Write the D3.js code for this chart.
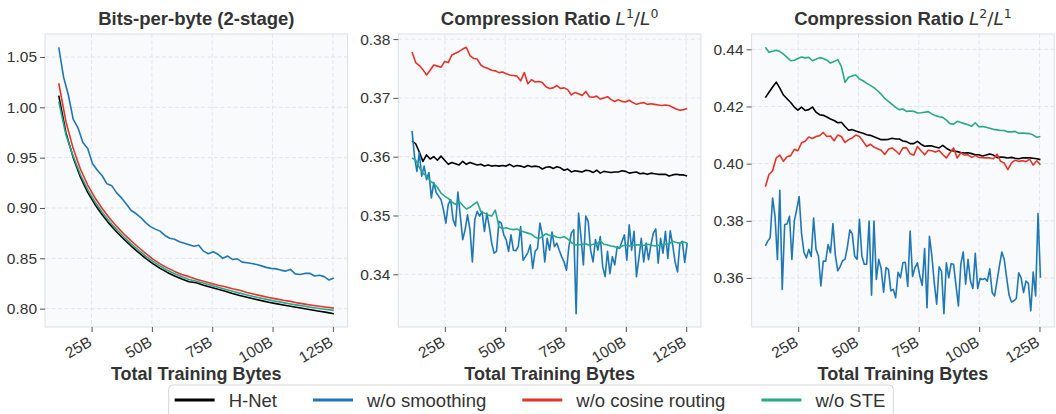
<!DOCTYPE html>
<html>
<head>
<meta charset="utf-8">
<script src="https://cdn.jsdelivr.net/npm/d3@7"></script>
<style>
  body { margin: 0; background: #fff; }
  svg { display: block; font-family: 'Liberation Sans', Arial, sans-serif; }
</style>
</head>
<body>
<div id="chart"></div>
<script>
'use strict';

// series names, legend order = draw order
const seriesNames = ['H-Net', 'w/o smoothing', 'w/o cosine routing', 'w/o STE'];

// logged range of training bytes (in billions), every series is evenly spaced over it
const firstByte = 11.4;
const lastByte = 125.4;
const xTicks = [25, 50, 75, 100, 125];

// bits-per-byte
const bpbHNet = [1.0116, 0.9745, 0.9500, 0.9305, 0.9155, 0.9035, 0.8932, 0.8842, 0.8762, 0.8690,
  0.8622, 0.8560, 0.8500, 0.8448, 0.8400, 0.8360, 0.8325, 0.8295, 0.8268, 0.8258,
  0.8232, 0.8212, 0.8192, 0.8173, 0.8151, 0.8131, 0.8113, 0.8096, 0.8080, 0.8064,
  0.8050, 0.8037, 0.8024, 0.8011, 0.7999, 0.7987, 0.7975, 0.7963, 0.7950];
const bpbSmoothing = [1.0596, 1.0300, 1.0120, 0.9880, 0.9795, 0.9650, 0.9590, 0.9440, 0.9375, 0.9320,
  0.9240, 0.9220, 0.9150, 0.9100, 0.9040, 0.8975, 0.8945, 0.8905, 0.8855, 0.8815,
  0.8790, 0.8770, 0.8727, 0.8700, 0.8690, 0.8665, 0.8650, 0.8635, 0.8620, 0.8630,
  0.8571, 0.8545, 0.8565, 0.8540, 0.8500, 0.8522, 0.8489, 0.8495, 0.8462, 0.8456,
  0.8448, 0.8439, 0.8425, 0.8410, 0.8400, 0.8395, 0.8383, 0.8373, 0.8390, 0.8345,
  0.8340, 0.8350, 0.8352, 0.8325, 0.8332, 0.8318, 0.8284, 0.8305];
const bpbCosine = [1.0239, 0.9855, 0.9590, 0.9385, 0.9228, 0.9102, 0.8995, 0.8900, 0.8817, 0.8742,
  0.8673, 0.8610, 0.8550, 0.8492, 0.8445, 0.8405, 0.8370, 0.8340, 0.8318, 0.8292,
  0.8272, 0.8252, 0.8233, 0.8218, 0.8197, 0.8182, 0.8160, 0.8143, 0.8127, 0.8111,
  0.8097, 0.8083, 0.8072, 0.8057, 0.8045, 0.8034, 0.8024, 0.8014, 0.8005];
const bpbSte = [1.0057, 0.9725, 0.9515, 0.9330, 0.9182, 0.9062, 0.8958, 0.8866, 0.8785, 0.8712,
  0.8644, 0.8581, 0.8522, 0.8470, 0.8423, 0.8382, 0.8347, 0.8317, 0.8290, 0.8272,
  0.8252, 0.8232, 0.8212, 0.8193, 0.8173, 0.8154, 0.8136, 0.8119, 0.8103, 0.8087,
  0.8073, 0.8060, 0.8047, 0.8035, 0.8023, 0.8012, 0.8002, 0.7992, 0.7983];
const bpbTicks = [0.80, 0.85, 0.90, 0.95, 1.00, 1.05];

// compression ratio L1/L0
const l1HNet = [0.3627, 0.3622, 0.3608, 0.3592, 0.3603, 0.3596, 0.3600, 0.3594, 0.3601, 0.3594,
  0.3587, 0.3590, 0.3588, 0.3586, 0.3592, 0.3587, 0.3590, 0.3588, 0.3586, 0.3587,
  0.3584, 0.3586, 0.3584, 0.3585, 0.3584, 0.3585, 0.3584, 0.3587, 0.3583, 0.3585,
  0.3584, 0.3582, 0.3585, 0.3583, 0.3584, 0.3583, 0.3579, 0.3582, 0.3583, 0.3580,
  0.3583, 0.3581, 0.3577, 0.3579, 0.3574, 0.3576, 0.3575, 0.3574, 0.3577, 0.3576,
  0.3573, 0.3577, 0.3572, 0.3575, 0.3574, 0.3573, 0.3574, 0.3574, 0.3576, 0.3575,
  0.3572, 0.3573, 0.3574, 0.3571, 0.3572, 0.3570, 0.3572, 0.3571, 0.3570, 0.3570,
  0.3570, 0.3567, 0.3569, 0.3570, 0.3569, 0.3569, 0.3567];
const l1Smoothing = [0.3644, 0.3601, 0.3575, 0.3607, 0.3567, 0.3584, 0.3561, 0.3573, 0.3530, 0.3556,
  0.3539, 0.3533, 0.3527, 0.3510, 0.3487, 0.3519, 0.3527, 0.3493, 0.3482, 0.3540,
  0.3499, 0.3459, 0.3476, 0.3501, 0.3476, 0.3421, 0.3493, 0.3507, 0.3499, 0.3507,
  0.3473, 0.3504, 0.3481, 0.3453, 0.3436, 0.3439, 0.3490, 0.3487, 0.3467, 0.3459,
  0.3439, 0.3467, 0.3441, 0.3440, 0.3447, 0.3481, 0.3424, 0.3430, 0.3437, 0.3450,
  0.3410, 0.3439, 0.3444, 0.3487, 0.3467, 0.3421, 0.3461, 0.3441, 0.3472, 0.3447,
  0.3453, 0.3441, 0.3430, 0.3421, 0.3407, 0.3447, 0.3470, 0.3476, 0.3333, 0.3504,
  0.3464, 0.3416, 0.3499, 0.3490, 0.3441, 0.3421, 0.3459, 0.3441, 0.3464, 0.3413,
  0.3396, 0.3439, 0.3401, 0.3430, 0.3416, 0.3447, 0.3444, 0.3456, 0.3467, 0.3424,
  0.3484, 0.3441, 0.3473, 0.3396, 0.3427, 0.3461, 0.3421, 0.3453, 0.3425, 0.3450,
  0.3470, 0.3477, 0.3419, 0.3461, 0.3436, 0.3473, 0.3427, 0.3474, 0.3450, 0.3421,
  0.3404, 0.3453, 0.3456, 0.3420, 0.3453];
const l1Cosine = [0.3778, 0.3760, 0.3755, 0.3748, 0.3739, 0.3747, 0.3756, 0.3754, 0.3752, 0.3762,
  0.3760, 0.3773, 0.3776, 0.3779, 0.3783, 0.3786, 0.3772, 0.3767, 0.3766, 0.3756,
  0.3752, 0.3750, 0.3747, 0.3746, 0.3743, 0.3744, 0.3741, 0.3739, 0.3738, 0.3737,
  0.3729, 0.3743, 0.3724, 0.3731, 0.3727, 0.3728, 0.3726, 0.3719, 0.3716, 0.3717,
  0.3721, 0.3716, 0.3717, 0.3714, 0.3705, 0.3709, 0.3707, 0.3704, 0.3711, 0.3702,
  0.3701, 0.3703, 0.3698, 0.3700, 0.3702, 0.3697, 0.3694, 0.3697, 0.3694, 0.3693,
  0.3696, 0.3692, 0.3689, 0.3691, 0.3692, 0.3689, 0.3690, 0.3689, 0.3688, 0.3687,
  0.3688, 0.3687, 0.3684, 0.3681, 0.3679, 0.3680, 0.3682];
const l1Ste = [0.3598, 0.3594, 0.3582, 0.3572, 0.3567, 0.3559, 0.3554, 0.3548, 0.3538, 0.3533,
  0.3529, 0.3523, 0.3519, 0.3524, 0.3517, 0.3511, 0.3514, 0.3519, 0.3523, 0.3507,
  0.3504, 0.3501, 0.3499, 0.3509, 0.3481, 0.3478, 0.3479, 0.3477, 0.3476, 0.3477,
  0.3474, 0.3472, 0.3470, 0.3468, 0.3463, 0.3461, 0.3464, 0.3469, 0.3466, 0.3466,
  0.3463, 0.3462, 0.3464, 0.3460, 0.3454, 0.3450, 0.3450, 0.3451, 0.3452, 0.3449,
  0.3451, 0.3451, 0.3457, 0.3451, 0.3450, 0.3448, 0.3447, 0.3444, 0.3448, 0.3450,
  0.3448, 0.3449, 0.3450, 0.3450, 0.3449, 0.3451, 0.3450, 0.3448, 0.3449, 0.3450,
  0.3451, 0.3452, 0.3456, 0.3454, 0.3453, 0.3455, 0.3453];
const l1Ticks = [0.34, 0.35, 0.36, 0.37, 0.38];

// compression ratio L2/L1
const l2HNet = [0.4231, 0.4250, 0.4268, 0.4285, 0.4264, 0.4240, 0.4227, 0.4214, 0.4198, 0.4187,
  0.4198, 0.4186, 0.4189, 0.4198, 0.4180, 0.4171, 0.4169, 0.4163, 0.4156, 0.4151,
  0.4143, 0.4145, 0.4130, 0.4117, 0.4119, 0.4114, 0.4110, 0.4106, 0.4101, 0.4099,
  0.4094, 0.4089, 0.4084, 0.4084, 0.4085, 0.4089, 0.4086, 0.4086, 0.4079, 0.4077,
  0.4070, 0.4070, 0.4078, 0.4068, 0.4061, 0.4062, 0.4062, 0.4058, 0.4055, 0.4064,
  0.4054, 0.4047, 0.4044, 0.4042, 0.4039, 0.4037, 0.4038, 0.4035, 0.4031, 0.4031,
  0.4027, 0.4030, 0.4034, 0.4030, 0.4021, 0.4023, 0.4022, 0.4020, 0.4022, 0.4019,
  0.4017, 0.4020, 0.4020, 0.4020, 0.4019, 0.4017, 0.4014];
const l2Smoothing = [0.3712, 0.3729, 0.3741, 0.3880, 0.3816, 0.3665, 0.3907, 0.3560, 0.3787, 0.3789,
  0.3816, 0.3665, 0.3799, 0.3840, 0.3885, 0.3755, 0.3690, 0.3670, 0.3700, 0.3675,
  0.3810, 0.3700, 0.3677, 0.3572, 0.3659, 0.3659, 0.3717, 0.3688, 0.3790, 0.3680,
  0.3625, 0.3640, 0.3660, 0.3665, 0.3708, 0.3768, 0.3755, 0.3677, 0.3665, 0.3805,
  0.3677, 0.3648, 0.3648, 0.3799, 0.3540, 0.3799, 0.3595, 0.3665, 0.3632, 0.3550,
  0.3636, 0.3630, 0.3555, 0.3560, 0.3531, 0.3620, 0.3601, 0.3653, 0.3655, 0.3570,
  0.3764, 0.3605, 0.3636, 0.3653, 0.3607, 0.3574, 0.3703, 0.3496, 0.3746, 0.3677,
  0.3584, 0.3508, 0.3639, 0.3624, 0.3475, 0.3653, 0.3601, 0.3650, 0.3648, 0.3574,
  0.3502, 0.3648, 0.3691, 0.3578, 0.3665, 0.3589, 0.3563, 0.3686, 0.3563, 0.3598,
  0.3595, 0.3598, 0.3589, 0.3632, 0.3549, 0.3537, 0.3589, 0.3642, 0.3691, 0.3665,
  0.3600, 0.3540, 0.3516, 0.3520, 0.3528, 0.3618, 0.3600, 0.3549, 0.3589, 0.3581,
  0.3485, 0.3621, 0.3537, 0.3825, 0.3601];
const l2Cosine = [0.3919, 0.3962, 0.3975, 0.4020, 0.4030, 0.4008, 0.4024, 0.4028, 0.4050, 0.4045,
  0.4073, 0.4078, 0.4093, 0.4088, 0.4095, 0.4098, 0.4109, 0.4095, 0.4097, 0.4080,
  0.4100, 0.4095, 0.4074, 0.4084, 0.4090, 0.4100, 0.4095, 0.4078, 0.4060, 0.4068,
  0.4058, 0.4052, 0.4047, 0.4032, 0.4050, 0.4055, 0.4045, 0.4033, 0.4055, 0.4055,
  0.4035, 0.4030, 0.4060, 0.4045, 0.4031, 0.4047, 0.4045, 0.4041, 0.4046, 0.4032,
  0.4020, 0.4038, 0.4055, 0.4020, 0.4038, 0.4030, 0.4031, 0.4022, 0.4028, 0.4022,
  0.4021, 0.4020, 0.4020, 0.4017, 0.4033, 0.4008, 0.4002, 0.3979, 0.4003, 0.4012,
  0.4008, 0.4010, 0.4007, 0.4016, 0.3995, 0.4010, 0.3996];
const l2Ste = [0.4407, 0.4390, 0.4393, 0.4397, 0.4392, 0.4383, 0.4372, 0.4360, 0.4362, 0.4368,
  0.4373, 0.4370, 0.4372, 0.4360, 0.4365, 0.4371, 0.4368, 0.4362, 0.4352, 0.4357,
  0.4364, 0.4340, 0.4285, 0.4302, 0.4307, 0.4310, 0.4296, 0.4290, 0.4281, 0.4274,
  0.4266, 0.4255, 0.4243, 0.4228, 0.4218, 0.4207, 0.4197, 0.4189, 0.4191, 0.4183,
  0.4184, 0.4183, 0.4177, 0.4178, 0.4180, 0.4182, 0.4174, 0.4168, 0.4164, 0.4162,
  0.4152, 0.4140, 0.4138, 0.4148, 0.4144, 0.4140, 0.4136, 0.4131, 0.4143, 0.4129,
  0.4130, 0.4127, 0.4124, 0.4120, 0.4118, 0.4116, 0.4116, 0.4111, 0.4111, 0.4113,
  0.4106, 0.4107, 0.4106, 0.4105, 0.4100, 0.4092, 0.4095];
const l2Ticks = [0.36, 0.38, 0.40, 0.42, 0.44];

const colors = ['#000000', '#1f77b4', '#e3342b', '#27a98a'];

const panels = [
  {title: [{text: 'Bits-per-byte (2-stage)'}],
   series: [bpbHNet, bpbSmoothing, bpbCosine, bpbSte], yTicks: bpbTicks},
  {title: [{text: 'Compression Ratio '}, {text: 'L', math: true}, {text: '1', sup: true},
           {text: '/', math: true, plain: true, down: true}, {text: 'L', math: true}, {text: '0', sup: true}],
   series: [l1HNet, l1Smoothing, l1Cosine, l1Ste], yTicks: l1Ticks},
  {title: [{text: 'Compression Ratio '}, {text: 'L', math: true}, {text: '2', sup: true},
           {text: '/', math: true, plain: true, down: true}, {text: 'L', math: true}, {text: '1', sup: true}],
   series: [l2HNet, l2Smoothing, l2Cosine, l2Ste], yTicks: l2Ticks},
];

const width = 1056, height = 414;
const plotTop = 34, plotW = 302.6, plotH = 293;
const plotGap = 353.3, firstLeft = 45;

const svg = d3.select('#chart')
              .append('svg')
                .attr('width', width)
                .attr('height', height);

// pad a domain by 5% on each side, like the original plots
function padded(ext) {
  const m = (ext[1] - ext[0]) * 0.05;
  return [ext[0] - m, ext[1] + m];
}

function drawPanel(panel, k) {
  const g = svg.append('g')
               .attr('transform', `translate(${firstLeft + k * plotGap}, ${plotTop})`);

  const x = d3.scaleLinear()
              .domain(padded([firstByte, lastByte]))
              .range([0, plotW]);
  const allVals = [].concat(...panel.series);
  const y = d3.scaleLinear()
              .domain(padded(d3.extent(allVals)))
              .range([plotH, 0]);

  g.append('rect')
     .attr('width', plotW)
     .attr('height', plotH)
     .attr('fill', '#f8fafc');

  // grid
  g.selectAll('.xgrid')
   .data(xTicks)
   .enter()
   .append('line')
     .attr('x1', d => x(d)).attr('x2', d => x(d))
     .attr('y1', 0).attr('y2', plotH)
     .attr('stroke', '#e2e5ea')
     .attr('stroke-dasharray', '4,2.5');
  g.selectAll('.ygrid')
   .data(panel.yTicks)
   .enter()
   .append('line')
     .attr('y1', d => y(d)).attr('y2', d => y(d))
     .attr('x1', 0).attr('x2', plotW)
     .attr('stroke', '#e2e5ea')
     .attr('stroke-dasharray', '4,2.5');

  // lines
  const line = d3.line()
                 .x(d => x(d.b))
                 .y(d => y(d.v));
  panel.series.forEach((vals, s) => {
    const byteAt = d3.scaleLinear().domain([0, vals.length - 1]).range([firstByte, lastByte]);
    const pts = vals.map((v, i) => ({b: byteAt(i), v: v}));
    g.append('path')
       .datum(pts)
       .attr('d', line)
       .attr('fill', 'none')
       .attr('stroke', colors[s])
       .attr('stroke-width', 1.6)
       .attr('stroke-linejoin', 'round');
  });

  g.append('rect')
     .attr('width', plotW)
     .attr('height', plotH)
     .attr('fill', 'none')
     .attr('stroke', '#dcdfe4');

  // axes
  const yAxis = g.append('g')
                 .call(d3.axisLeft(y)
                         .tickValues(panel.yTicks)
                         .tickFormat(d3.format('.2f'))
                         .tickSize(5)
                         .tickPadding(3));
  const xAxis = g.append('g')
                 .attr('transform', `translate(0, ${plotH})`)
                 .call(d3.axisBottom(x)
                         .tickValues(xTicks)
                         .tickFormat(d => d + 'B')
                         .tickSize(5));
  [yAxis, xAxis].forEach(a => {
    a.select('.domain').remove();
    a.selectAll('line').attr('stroke', '#555');
    a.selectAll('text')
       .attr('fill', '#333')
       .style('font-size', '15.5px')
       .style('font-family', "'Liberation Sans', Arial, sans-serif");
  });
  xAxis.selectAll('text')
         .attr('x', 0)
         .attr('y', 0)
         .attr('dy', '0.75em')
         .attr('text-anchor', 'end')
         .attr('transform', 'translate(-5, 8) rotate(-30)');

  // title, with math parts as italic L and superscripts
  const title = g.append('text')
                 .attr('x', plotW / 2)
                 .attr('y', 25 - plotTop)
                 .attr('text-anchor', 'middle')
                 .attr('fill', '#333')
                 .style('font-size', '18.5px')
                 .style('font-weight', 'bold');
  panel.title.forEach((p, j) => {
    const t = title.append('tspan').text(p.text);
    if (p.math || p.sup) {
      t.style('font-family', "'DejaVu Sans', sans-serif")
       .style('font-weight', 'normal');
    }
    if (p.math) t.style('font-style', p.plain ? 'normal' : 'italic');
    if (p.sup) t.style('font-size', '12.5px').attr('dy', -7);
    if (p.down) t.attr('dy', 7);
  });

  g.append('text')
     .attr('x', plotW / 2)
     .attr('y', 380 - plotTop)
     .attr('text-anchor', 'middle')
     .attr('fill', '#333')
     .style('font-size', '18px')
     .style('font-weight', 'bold')
     .text('Total Training Bytes');
}

panels.forEach(drawPanel);

// legend
const legend = svg.append('g');
const box = legend.append('rect');
const handleLen = 40, textGap = 14, colGap = 36, padL = 6, padR = 8;
let cx = padL;
seriesNames.forEach((name, s) => {
  legend.append('line')
          .attr('x1', cx).attr('x2', cx + handleLen)
          .attr('y1', 400).attr('y2', 400)
          .attr('stroke', colors[s])
          .attr('stroke-width', 3);
  const t = legend.append('text')
                    .attr('x', cx + handleLen + textGap)
                    .attr('y', 406.5)
                    .attr('fill', '#333')
                    .style('font-size', '18.5px')
                    .text(name);
  cx += handleLen + textGap + t.node().getComputedTextLength() + colGap;
});
const legendW = cx - colGap + padR;
box.attr('x', 0).attr('y', 385)
   .attr('width', legendW).attr('height', 40)
   .attr('rx', 4)
   .attr('fill', '#fff')
   .attr('stroke', '#d6d6d6');
legend.attr('transform', `translate(${531 - legendW / 2}, 0)`);
</script>
</body>
</html>
